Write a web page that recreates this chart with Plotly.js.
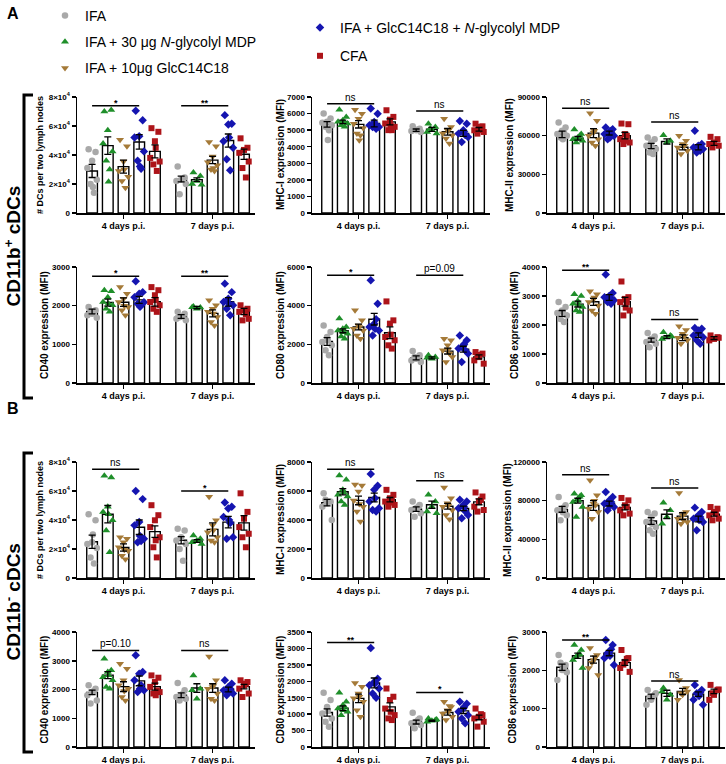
<!DOCTYPE html>
<html><head><meta charset="utf-8">
<script src="https://cdn.plot.ly/plotly-3.0.1.min.js"></script>
<style>html,body{margin:0;padding:0;background:#fff}#chart{width:726px;height:764px}</style>
</head><body><div id="chart"></div><script>
// ---------------- DATA ----------------
const CATEGORIES = ['4 days p.i.', '7 days p.i.'];
const SERIES = ['IFA', 'IFA + 30 μg <i>N</i>-glycolyl MDP', 'IFA + 10μg GlcC14C18', 'IFA + GlcC14C18 + <i>N</i>-glycolyl MDP', 'CFA'];
const Y_TITLES = ['# DCs per two lymph nodes', 'MHC-I expression (MFI)', 'MHC-II expression (MFI)', 'CD40 expression (MFI)', 'CD80 expression (MFI)', 'CD86 expression (MFI)'];
const SECTION_TITLES = ['CD11b<sup>+</sup> cDCs', 'CD11b<sup>-</sup> cDCs'];

const DC_TICKS = [0, 20000, 40000, 60000, 80000];
const DC_TICKTEXT = ['0', '2×10<sup>4</sup>', '4×10<sup>4</sup>', '6×10<sup>4</sup>', '8×10<sup>4</sup>'];
const A_MHCI_TICKS = [0, 1000, 2000, 3000, 4000, 5000, 6000, 7000];
const A_MHCII_TICKS = [0, 30000, 60000, 90000];
const A_CD40_TICKS = [0, 1000, 2000, 3000];
const A_CD80_TICKS = [0, 2000, 4000, 6000];
const A_CD86_TICKS = [0, 1000, 2000, 3000, 4000];
const B_MHCI_TICKS = [0, 2000, 4000, 6000, 8000];
const B_MHCII_TICKS = [0, 40000, 80000, 120000];
const B_CD40_TICKS = [0, 1000, 2000, 3000, 4000];
const B_CD80_TICKS = [0, 500, 1000, 1500, 2000, 2500, 3000, 3500];
const B_CD86_TICKS = [0, 1000, 2000, 3000];

// means / SEM: [series][day]
const A_DC_MEAN = [[29000, 23500], [46500, 23000], [32000, 36500], [49000, 50000], [42500, 40500]];
const A_DC_SEM = [[4500, 2000], [6000, 1200], [4500, 2500], [5000, 4500], [4500, 3500]];
const A_DC_PTS = [
  [[44000, 42000, 36000, 31000, 23000, 20000, 14000, 18000], [32000, 24500, 23000, 22000, 20000, 13000]],
  [[70000, 71000, 57000, 48000, 42500, 36000, 30000, 21500], [28000, 25500, 22000, 20000, 19500]],
  [[50500, 46000, 35500, 29000, 25000, 22000, 17500, 30000], [49000, 46000, 39000, 35000, 33000, 30000, 29000, 31000]],
  [[70500, 64000, 53000, 52000, 42500, 36000, 30500, 32000], [67500, 61500, 61000, 49500, 45000, 37000, 29500, 52000]],
  [[58500, 56000, 49500, 38000, 35500, 33500, 29000, 45000], [51500, 45000, 43500, 41500, 35500, 31000, 24500]]];
const A_DC_SIG = ['*', '**'];
const A_DC_SIGY = [74000, 74000];

const A_MHCI_MEAN = [[5350, 5000], [5500, 5050], [5350, 4900], [5400, 4800], [5500, 5050]];
const A_MHCI_SEM = [[170, 70], [110, 120], [220, 200], [200, 180], [180, 110]];
const A_MHCI_PTS = [
  [[6000, 5700, 5500, 5450, 5300, 5200, 5000, 4400], [5230, 5090, 5000, 4950, 4890, 5050]],
  [[6230, 5800, 5600, 5500, 5400, 5300, 5200, 5450], [5390, 5190, 4990, 4890, 4790, 5100]],
  [[6230, 5990, 5690, 5390, 5130, 4790, 4690, 4390], [5690, 5190, 4990, 4790, 4690, 4490, 4190, 5000]],
  [[6300, 5990, 5490, 5290, 5190, 5190, 5090, 5350], [5550, 5390, 4990, 4790, 4590, 4290, 4700, 4900]],
  [[6200, 5800, 5630, 5400, 5200, 5000, 5000, 5300], [5390, 5230, 5090, 4990, 4890, 4790, 5200, 5000]]];
const A_MHCI_SIG = ['ns', 'ns'];
const A_MHCI_SIGY = [6600, 6160];

const A_MHCII_MEAN = [[61000, 52000], [58000, 55500], [62000, 51000], [62000, 51000], [60000, 54000]];
const A_MHCII_SEM = [[2500, 2000], [1500, 2000], [3500, 2000], [1500, 2000], [2500, 1500]];
const A_MHCII_PTS = [
  [[70200, 66300, 63800, 61200, 59900, 58600, 62500, 57300], [58600, 57300, 54700, 52200, 49600, 47000, 45800, 51000]],
  [[64800, 61200, 58600, 57300, 56000, 54700, 59900, 57800], [60400, 56000, 54700]],
  [[77400, 71500, 62500, 59900, 57300, 54700, 52200, 63800], [59900, 56000, 53500, 50900, 48300, 45800, 52200]],
  [[66300, 65000, 62500, 61200, 59900, 57300, 63800, 58600], [63800, 53500, 52200, 50900, 49600, 47000, 48300]],
  [[69400, 68900, 61200, 57300, 54700, 53500, 59900, 56000], [59100, 57300, 54700, 53500, 52200, 50900]]];
const A_MHCII_SIG = ['ns', 'ns'];
const A_MHCII_SIGY = [81200, 70700];

const A_CD40_MEAN = [[1850, 1720], [2080, 1950], [2090, 1800], [2150, 2100], [2100, 1850]];
const A_CD40_SEM = [[60, 50], [90, 30], [110, 90], [90, 110], [110, 80]];
const A_CD40_PTS = [
  [[1965, 1880, 1790, 1750, 1690, 1860], [1840, 1790, 1720, 1660, 1620, 1700]],
  [[2400, 2370, 2220, 2095, 2010, 1920, 1840, 2050], [1980, 1950, 1920, 1960]],
  [[2480, 2310, 2180, 2095, 1965, 1880, 1750, 2000], [2140, 2010, 1920, 1840, 1710, 1580, 1490, 1800]],
  [[2630, 2350, 2310, 2220, 2090, 2050, 2010, 1970], [2570, 2350, 2180, 2095, 2010, 1920, 1750, 2050]],
  [[2480, 2400, 2270, 2095, 2010, 1920, 1840, 2150], [2010, 1920, 1880, 1840, 1660, 1620, 1780]]];
const A_CD40_SIG = ['*', '**'];
const A_CD40_SIGY = [2760, 2760];

const A_CD80_MEAN = [[2150, 1300], [2700, 1300], [2900, 1650], [3300, 1750], [2600, 1350]];
const A_CD80_SEM = [[200, 100], [100, 50], [150, 150], [300, 150], [300, 100]];
const A_CD80_PTS = [
  [[2980, 2640, 2380, 2120, 1950, 1690, 1430, 2200], [1660, 1430, 1260, 1170, 1090, 1340]],
  [[3330, 2900, 2810, 2720, 2550, 2410, 2290, 2620], [1430, 1340, 1260, 1300]],
  [[3760, 3240, 2980, 2810, 2720, 2460, 2290, 2900], [2290, 2210, 1950, 1690, 1340, 1090, 1520, 1730]],
  [[5310, 4100, 3070, 2900, 2720, 2460, 3300, 2800], [2460, 2210, 1950, 1780, 1520, 1090, 1700, 2000]],
  [[4220, 3240, 3070, 2380, 2210, 1950, 1780, 2500], [1600, 1520, 1340, 1170, 1000, 1450]]];
const A_CD80_SIG = ['*', 'p=0.09'];
const A_CD80_SIGY = [5570, 5570];

const A_CD86_MEAN = [[2400, 1480], [2720, 1580], [2800, 1560], [2950, 1650], [2800, 1550]];
const A_CD86_SEM = [[100, 70], [100, 50], [120, 100], [100, 80], [150, 50]];
const A_CD86_PTS = [
  [[2790, 2620, 2500, 2410, 2330, 2210, 2100, 2450], [1720, 1600, 1520, 1410, 1350, 1230, 1470]],
  [[3060, 3000, 2830, 2730, 2620, 2500, 2450, 2700], [1750, 1640, 1580, 1520, 1600]],
  [[3160, 3060, 2890, 2790, 2670, 2500, 2390, 2950], [1960, 1830, 1700, 1560, 1470, 1350, 1620]],
  [[3740, 3100, 3000, 2960, 2850, 2790, 2730, 2900], [1900, 1870, 1810, 1640, 1580, 1470, 1350, 1720]],
  [[3500, 2960, 2900, 2790, 2500, 2330, 2790, 2600], [1640, 1580, 1520, 1470, 1560]]];
const A_CD86_SIG = ['**', 'ns'];
const A_CD86_SIGY = [3890, 2190];

const B_DC_MEAN = [[25000, 26000], [44000, 25500], [21000, 33500], [35000, 38500], [32000, 38000]];
const B_DC_SEM = [[4500, 2500], [6000, 1000], [2500, 4500], [5000, 4000], [4000, 5000]];
const B_DC_PTS = [
  [[44000, 39800, 24700, 23500, 20700, 14200, 10000, 30000], [34000, 32800, 28100, 25800, 23500, 20000, 11900]],
  [[70500, 69300, 49100, 45600, 39800, 32800, 17700, 44000], [29300, 27000, 25800, 24700, 23500]],
  [[28100, 27000, 24700, 21200, 18800, 15300, 13000, 19500], [56000, 39800, 36300, 31600, 28100, 25800, 24700, 33000]],
  [[60000, 54400, 38600, 36300, 27000, 24700, 25500, 29000], [52100, 49100, 47900, 42100, 28100, 27000, 38000, 40000]],
  [[50200, 43300, 39800, 35100, 28100, 21200, 14200, 26000], [58400, 45600, 40900, 35100, 30500, 28100, 21200]]];
const B_DC_SIG = ['ns', '*'];
const B_DC_SIGY = [75000, 60000];

const B_MHCI_MEAN = [[5200, 4750], [5950, 5050], [5350, 4950], [5550, 4800], [5400, 5250]];
const B_MHCI_SEM = [[220, 150], [220, 250], [300, 200], [300, 150], [150, 200]];
const B_MHCI_PTS = [
  [[5850, 5270, 5150, 4920, 4000, 5400], [5270, 5040, 4810, 4690, 4460, 4230, 4900]],
  [[7075, 6775, 6080, 5735, 5620, 5270, 5040, 5900], [5735, 5270, 4920, 4580, 4460]],
  [[6450, 6380, 5970, 5340, 4920, 4580, 3900, 5100], [6240, 5500, 5150, 4920, 4690, 4350, 4050, 5000]],
  [[7170, 6360, 6080, 5270, 4810, 4690, 4580, 5500], [5390, 5270, 5040, 4810, 4350, 4120, 4600, 4900]],
  [[6080, 5735, 5500, 5270, 5040, 4920, 5400, 5200], [5900, 5620, 5270, 4920, 4690, 4580, 5400]]];
const B_MHCI_SIG = ['ns', 'ns'];
const B_MHCI_SIGY = [7500, 6700];

const B_MHCII_MEAN = [[71000, 59000], [80000, 66000], [75000, 64000], [77000, 61000], [73000, 66000]];
const B_MHCII_SEM = [[3000, 3500], [2500, 4500], [5000, 3500], [2500, 3000], [2500, 2000]];
const B_MHCII_PTS = [
  [[83800, 75200, 71700, 70000, 64800, 59700, 73000, 68000], [68300, 66600, 63100, 58000, 52800, 49300, 45900, 56000]],
  [[87200, 85500, 82000, 78600, 73400, 63100, 84000, 80000], [77900, 70000, 63100, 56200]],
  [[101000, 85500, 76900, 71700, 68300, 61400, 75200, 80000], [88000, 68300, 64800, 61400, 58000, 56200, 66600, 60000]],
  [[89000, 83800, 80300, 76900, 73400, 70000, 78600, 75200], [72800, 68300, 64800, 61400, 58000, 49300, 63100, 60000]],
  [[82800, 80300, 75200, 70000, 66600, 64800, 73400], [73400, 71700, 68300, 64800, 61400, 59700, 66600]]];
const B_MHCII_SIG = ['ns', 'ns'];
const B_MHCII_SIGY = [106900, 93100];

const B_CD40_MEAN = [[1900, 1800], [2500, 2050], [2100, 2050], [2300, 2000], [2100, 2100]];
const B_CD40_SEM = [[80, 80], [120, 150], [170, 150], [170, 80], [120, 80]];
const B_CD40_PTS = [
  [[2150, 2030, 1910, 1800, 1620, 1510, 1950], [2230, 1970, 1800, 1740, 1680, 1620, 1850]],
  [[3070, 2670, 2610, 2430, 2320, 2090, 2030, 2500], [2490, 2030, 1680, 1970]],
  [[2900, 2720, 2320, 2150, 2030, 1740, 1620, 1950], [3150, 2320, 2090, 2030, 1860, 1680, 1620, 2150]],
  [[3190, 2610, 2550, 2320, 1970, 1910, 2150, 2030], [2320, 2200, 2090, 1970, 1860, 1800, 2030, 1920]],
  [[2490, 2410, 2260, 2090, 1910, 1860, 1970, 1800], [2320, 2260, 2150, 2030, 1860, 1740, 2200]]];
const B_CD40_SIG = ['p=0.10', 'ns'];
const B_CD40_SIGY = [3360, 3360];

const B_CD80_MEAN = [[1050, 760], [1180, 800], [1480, 1050], [1950, 1100], [1220, 900]];
const B_CD80_SEM = [[110, 60], [70, 20], [130, 80], [150, 80], [120, 70]];
const B_CD80_PTS = [
  [[1650, 1430, 1220, 1020, 870, 770, 620, 1100], [1040, 870, 770, 720, 670, 570, 820]],
  [[1650, 1380, 1270, 1170, 1070, 970, 1220, 1120], [870, 820, 800, 770, 840]],
  [[1950, 1830, 1630, 1480, 1380, 1120, 920, 1530], [1380, 1220, 1120, 1020, 920, 820, 1250, 1070]],
  [[3010, 2080, 1980, 1880, 1780, 1630, 1500, 1930], [1380, 1320, 1170, 1070, 970, 870, 720, 1220]],
  [[1780, 1530, 1430, 1170, 970, 870, 820, 1070], [1170, 970, 920, 870, 770, 620, 1000]]];
const B_CD80_SIG = ['**', '*'];
const B_CD80_SIGY = [3180, 1660];

const B_CD86_MEAN = [[2080, 1320], [2380, 1400], [2280, 1450], [2450, 1380], [2200, 1450]];
const B_CD86_SEM = [[80, 60], [70, 80], [90, 80], [70, 60], [70, 60]];
const B_CD86_PTS = [
  [[2400, 2140, 2010, 1750, 1950, 2200, 2050], [1490, 1360, 1230, 1100, 1400, 1300]],
  [[2660, 2530, 2400, 2270, 2060, 2350, 2420], [1540, 1360, 1230, 1450]],
  [[2580, 2400, 2270, 2060, 1880, 2200, 2350], [1750, 1540, 1360, 1230, 1450, 1400]],
  [[2790, 2660, 2480, 2320, 2140, 2450, 2550, 2380], [1620, 1490, 1360, 1230, 1100, 1400, 1420, 1330]],
  [[2530, 2320, 2220, 2060, 1960, 2150, 2300], [1620, 1490, 1360, 1230, 1500, 1400]]];
const B_CD86_SIG = ['**', 'ns'];
const B_CD86_SIGY = [2790, 1720];

// ---------------- STYLE ----------------
const W = 726, H = 764;
const FONT = 'Liberation Sans, Arial, sans-serif';
const COLORS = ['#a9a9a9', '#1f8f2a', '#a57a38', '#1515b0', '#ad1419'];
const SYMBOLS = ['circle', 'triangle-up', 'triangle-down', 'diamond', 'square'];
const SIZES = [6.5, 7, 7, 6.5, 6];
const JITTER = [-0.22, 0.22, 0, -0.3, 0.3, -0.1, 0.12, 0.05];
const COL_X = [[77, 255], [312, 490], [547, 725]];
const ROW_Y = [[97, 213], [267, 383], [462, 578], [632, 747]];
const TITLE_PX = [40, 280, 509, 44, 280, 514, 40, 280, 507, 44, 280, 512];
const GROUP_SEP = 5.67;
const BAR_W = 0.68;
const XRANGE = [-2.96, 8.37];

const panels = [
  [A_DC_MEAN, A_DC_SEM, A_DC_PTS, A_DC_SIG, A_DC_SIGY, DC_TICKS, DC_TICKTEXT, 0],
  [A_MHCI_MEAN, A_MHCI_SEM, A_MHCI_PTS, A_MHCI_SIG, A_MHCI_SIGY, A_MHCI_TICKS, null, 1],
  [A_MHCII_MEAN, A_MHCII_SEM, A_MHCII_PTS, A_MHCII_SIG, A_MHCII_SIGY, A_MHCII_TICKS, null, 2],
  [A_CD40_MEAN, A_CD40_SEM, A_CD40_PTS, A_CD40_SIG, A_CD40_SIGY, A_CD40_TICKS, null, 3],
  [A_CD80_MEAN, A_CD80_SEM, A_CD80_PTS, A_CD80_SIG, A_CD80_SIGY, A_CD80_TICKS, null, 4],
  [A_CD86_MEAN, A_CD86_SEM, A_CD86_PTS, A_CD86_SIG, A_CD86_SIGY, A_CD86_TICKS, null, 5],
  [B_DC_MEAN, B_DC_SEM, B_DC_PTS, B_DC_SIG, B_DC_SIGY, DC_TICKS, DC_TICKTEXT, 0],
  [B_MHCI_MEAN, B_MHCI_SEM, B_MHCI_PTS, B_MHCI_SIG, B_MHCI_SIGY, B_MHCI_TICKS, null, 1],
  [B_MHCII_MEAN, B_MHCII_SEM, B_MHCII_PTS, B_MHCII_SIG, B_MHCII_SIGY, B_MHCII_TICKS, null, 2],
  [B_CD40_MEAN, B_CD40_SEM, B_CD40_PTS, B_CD40_SIG, B_CD40_SIGY, B_CD40_TICKS, null, 3],
  [B_CD80_MEAN, B_CD80_SEM, B_CD80_PTS, B_CD80_SIG, B_CD80_SIGY, B_CD80_TICKS, null, 4],
  [B_CD86_MEAN, B_CD86_SEM, B_CD86_PTS, B_CD86_SIG, B_CD86_SIGY, B_CD86_TICKS, null, 5]
];

const px = v => v / W;
const py = v => 1 - v / H;

const traces = [];
const layout = {
  width: W, height: H, margin: {l: 0, r: 0, t: 0, b: 0},
  paper_bgcolor: '#fff', plot_bgcolor: 'rgba(0,0,0,0)',
  barmode: 'overlay', font: {family: FONT, color: '#000'},
  annotations: [], shapes: [],
  legend: {x: px(45), y: 1, xanchor: 'left', yanchor: 'top', font: {family: FONT, size: 14, color: '#000'},
           tracegroupgap: 5, bgcolor: 'rgba(0,0,0,0)', itemclick: false, itemdoubleclick: false},
  legend2: {x: px(300), y: py(12), xanchor: 'left', yanchor: 'top', font: {family: FONT, size: 14, color: '#000'},
            tracegroupgap: 7, bgcolor: 'rgba(0,0,0,0)', itemclick: false, itemdoubleclick: false}
};

panels.forEach((p, k) => {
  const [mean, sem, pts, sig, sigY, ticks, ticktext, titleIdx] = p;
  const n = k + 1;
  const xa = 'x' + n, ya = 'y' + n;
  const row = Math.floor(k / 3), col = k % 3;
  const groupCenters = CATEGORIES.map((c, g) => g * GROUP_SEP);

  for (let s = 0; s < SERIES.length; s++) {
    const xs = groupCenters.map(c => c + (s - 2));
    traces.push({type: 'bar', x: xs, y: mean[s], width: BAR_W, xaxis: xa, yaxis: ya,
      marker: {color: '#ffffff', line: {color: '#000', width: 1.4}}, showlegend: false, hoverinfo: 'skip'});
  }
  for (let s = 0; s < SERIES.length; s++) {
    const xs2 = [], ys2 = [];
    pts[s].forEach((arr, g) => arr.forEach((v, j) => {
      xs2.push(groupCenters[g] + (s - 2) + JITTER[j % JITTER.length]);
      ys2.push(v);
    }));
    traces.push({type: 'scatter', mode: 'markers', x: xs2, y: ys2, xaxis: xa, yaxis: ya,
      name: SERIES[s], legend: s < 3 ? 'legend' : 'legend2', legendgroup: 'g' + s,
      showlegend: k === 0, cliponaxis: false,
      marker: {symbol: SYMBOLS[s], color: COLORS[s], size: SIZES[s], line: {width: 0}}});
  }
  for (let s = 0; s < SERIES.length; s++) {
    const xs = groupCenters.map(c => c + (s - 2));
    traces.push({type: 'scatter', mode: 'markers', x: xs, y: mean[s], xaxis: xa, yaxis: ya,
      marker: {size: 1, color: 'rgba(0,0,0,0)'}, showlegend: false, hoverinfo: 'skip',
      error_y: {type: 'data', array: sem[s], color: '#000', thickness: 1.3, width: 3.5}});
  }

  const axSuffix = n === 1 ? '' : String(n);
  layout['xaxis' + axSuffix] = {
    domain: [px(COL_X[col][0]), px(COL_X[col][1])], range: XRANGE, anchor: ya,
    showline: true, linecolor: '#000', linewidth: 1.5, ticks: 'outside', ticklen: 4, tickwidth: 1.5, tickcolor: '#000',
    tickvals: groupCenters, ticktext: CATEGORIES,
    tickfont: {family: FONT, size: 9, weight: 'bold', color: '#000'},
    showgrid: false, zeroline: false, fixedrange: true
  };
  const yax = {
    domain: [py(ROW_Y[row][1]), py(ROW_Y[row][0])], range: [0, ticks[ticks.length - 1]], anchor: xa,
    showline: true, linecolor: '#000', linewidth: 1.5, ticks: 'outside', ticklen: 4, tickwidth: 1.5, tickcolor: '#000',
    tickvals: ticks, tickformat: 'd',
    tickfont: {family: FONT, size: 8, weight: 'bold', color: '#000'},
    showgrid: false, zeroline: false, fixedrange: true
  };
  if (ticktext) yax.ticktext = ticktext;
  layout['yaxis' + axSuffix] = yax;

  // y title
  layout.annotations.push({xref: 'paper', yref: 'paper', x: px(TITLE_PX[k]),
    y: py((ROW_Y[row][0] + ROW_Y[row][1]) / 2), xanchor: 'center', yanchor: 'middle',
    text: Y_TITLES[titleIdx], textangle: -90, showarrow: false,
    font: {family: FONT, size: titleIdx === 0 ? 9 : 10, weight: 'bold', color: '#000'}});

  // significance
  sig.forEach((lab, g) => {
    layout.shapes.push({type: 'line', xref: xa, yref: ya, x0: groupCenters[g] - 2, x1: groupCenters[g] + 1,
      y0: sigY[g], y1: sigY[g], line: {color: '#000', width: 1.5}});
    const star = lab.indexOf('*') >= 0;
    layout.annotations.push({xref: xa, yref: ya, x: groupCenters[g] - 0.5, y: sigY[g], text: lab,
      showarrow: false, xanchor: 'center', yanchor: 'bottom', yshift: star ? -4 : -1,
      font: {family: FONT, size: star ? 9 : 10, color: '#000', weight: star ? 'bold' : 'normal'}});
  });
});

// section letters, labels and brackets
layout.annotations.push({xref: 'paper', yref: 'paper', x: px(5), y: py(13), xanchor: 'left', yanchor: 'middle',
  text: 'A', showarrow: false, font: {family: FONT, size: 16, weight: 'bold', color: '#000'}});
layout.annotations.push({xref: 'paper', yref: 'paper', x: px(5), y: py(408), xanchor: 'left', yanchor: 'middle',
  text: 'B', showarrow: false, font: {family: FONT, size: 16, weight: 'bold', color: '#000'}});
const BRACKETS = [[95, 398], [453, 752]];
SECTION_TITLES.forEach((t, i) => {
  const [b0, b1] = BRACKETS[i];
  layout.annotations.push({xref: 'paper', yref: 'paper', x: px(12), y: py((b0 + b1) / 2),
    xanchor: 'center', yanchor: 'middle', text: t, textangle: -90,
    showarrow: false, font: {family: FONT, size: 19, weight: 'bold', color: '#000'}});
  layout.shapes.push({type: 'path', xref: 'paper', yref: 'paper',
    path: `M ${px(33)} ${py(b0)} L ${px(24)} ${py(b0)} L ${px(24)} ${py(b1)} L ${px(33)} ${py(b1)}`,
    line: {color: '#000', width: 3}});
});

Plotly.newPlot('chart', traces, layout, {staticPlot: true, displayModeBar: false});
</script></body></html>
